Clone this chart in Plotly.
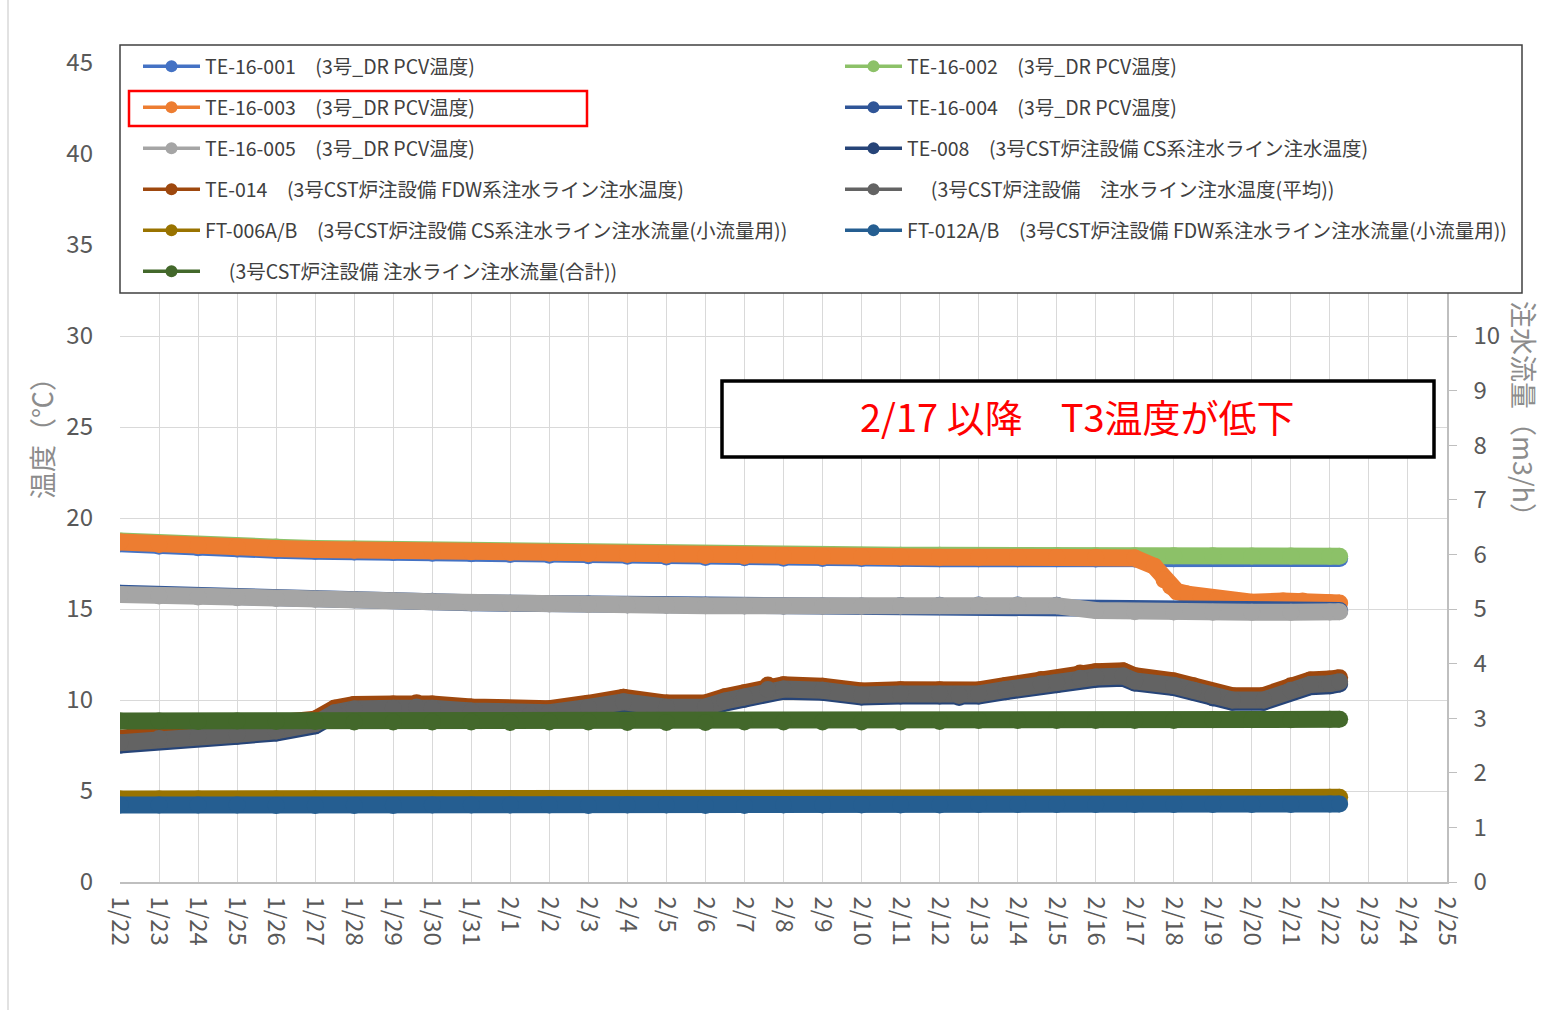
import pandas as pd
import plotly.graph_objects as go

# ---------------- data ----------------
BASE_DATE = "2021-01-22"
X_END_DAY = 34  # 2/25

# day offsets from 1/22 00:00
DAYS = list(range(32)) + [31.25]
ORANGE_DAYS = list(range(27)) + [26.5, 26.75, 26.92, 27.08, 27.35, 27.7, 28.1, 29, 29.8, 30.3, 31, 31.25]
BAND_DAYS = [0, 1, 2, 3, 4, 5, 5.5, 6, 7, 7.6, 8, 9, 10, 10.5, 11, 12, 12.9, 14, 15, 15.5,
             16, 16.6, 17, 18, 19, 20, 21, 21.5, 22, 22.7, 23.6, 24, 24.6, 25, 25.7, 26,
             27, 27.5, 28, 28.5, 29.3, 30, 30.5, 31, 31.25]

TE_16_001 = [18.58, 18.45, 18.37, 18.30, 18.23, 18.17, 18.13, 18.10, 18.07, 18.04,
             18.00, 17.96, 17.93, 17.90, 17.86, 17.83, 17.81, 17.79, 17.78, 17.77,
             17.77, 17.76, 17.76, 17.76, 17.76, 17.75, 17.75, 17.76, 17.77, 17.77,
             17.78, 17.78, 17.78]
TE_16_002 = [18.74, 18.61, 18.53, 18.46, 18.40, 18.33, 18.29, 18.26, 18.23, 18.20,
             18.16, 18.12, 18.09, 18.07, 18.04, 18.02, 18.00, 17.98, 17.97, 17.96,
             17.95, 17.95, 17.94, 17.94, 17.94, 17.93, 17.93, 17.92, 17.92, 17.91,
             17.91, 17.90, 17.90]
TE_16_003 = [18.68, 18.55, 18.47, 18.40, 18.33, 18.27, 18.23, 18.20, 18.17, 18.14,
             18.10, 18.06, 18.03, 18.00, 17.96, 17.93, 17.90, 17.88, 17.87, 17.86,
             17.86, 17.85, 17.85, 17.85, 17.85, 17.84, 17.80,
             17.35, 16.60, 16.23, 15.96, 15.82, 15.68, 15.50, 15.37, 15.44, 15.44,
             15.34, 15.33]
TE_16_004 = [15.86, 15.78, 15.71, 15.65, 15.60, 15.56, 15.52, 15.47, 15.42, 15.35,
             15.32, 15.30, 15.27, 15.24, 15.22, 15.20, 15.18, 15.17, 15.17, 15.17,
             15.19, 15.20, 15.22, 15.22, 15.20, 14.97, 14.93, 14.92, 14.92, 14.92,
             14.92, 14.92, 14.92]
TE_16_005 = [15.80, 15.72, 15.66, 15.62, 15.58, 15.54, 15.50, 15.45, 15.40, 15.33,
             15.30, 15.28, 15.25, 15.22, 15.20, 15.18, 15.16, 15.15, 15.15, 15.15,
             15.17, 15.18, 15.20, 15.20, 15.18, 14.92, 14.85, 14.83, 14.82, 14.82,
             14.82, 14.83, 14.85]
TE_008 = [7.52, 7.76, 7.89, 8.01, 8.19, 8.58, 9.18, 9.39, 9.44, 9.50, 9.44,
          9.29, 9.15, 9.06, 9.19, 9.47, 9.78, 9.49, 9.51, 9.83, 10.04,
          10.46, 10.48, 10.42, 10.16, 10.22, 10.22, 10.14, 10.22, 10.46, 10.76,
          10.84, 11.08, 11.14, 11.20, 10.93, 10.68, 10.42, 10.11, 9.88, 9.88,
          10.41, 10.73, 10.78, 10.88]
TE_014 = [7.90, 8.10, 8.22, 8.35, 8.52, 8.95, 9.55, 9.75, 9.78, 9.85, 9.78,
          9.62, 9.50, 9.40, 9.52, 9.82, 10.15, 9.83, 9.84, 10.18, 10.40,
          10.82, 10.84, 10.76, 10.50, 10.56, 10.56, 10.48, 10.55, 10.80, 11.12,
          11.20, 11.48, 11.55, 11.60, 11.33, 11.05, 10.78, 10.47, 10.24, 10.25,
          10.78, 11.10, 11.15, 11.22]
TEMP_AVG = [7.65, 7.88, 8.00, 8.12, 8.30, 8.70, 9.30, 9.50, 9.55, 9.62, 9.55,
            9.40, 9.26, 9.17, 9.30, 9.59, 9.90, 9.60, 9.62, 9.95, 10.16,
            10.58, 10.60, 10.53, 10.27, 10.33, 10.33, 10.25, 10.33, 10.58, 10.88,
            10.96, 11.20, 11.26, 11.32, 11.05, 10.80, 10.53, 10.23, 10.00, 10.00,
            10.53, 10.85, 10.90, 11.00]
FT_006 = [1.52, 1.52, 1.52, 1.51, 1.52, 1.52, 1.51, 1.51, 1.52, 1.52,
          1.51, 1.52, 1.52, 1.52, 1.51, 1.51, 1.52, 1.52, 1.52, 1.52,
          1.52, 1.53, 1.53, 1.53, 1.53, 1.53, 1.53, 1.53, 1.54, 1.54,
          1.54, 1.55, 1.55]
FT_012 = [1.41, 1.41, 1.41, 1.41, 1.40, 1.40, 1.40, 1.40, 1.41, 1.41,
          1.41, 1.41, 1.40, 1.41, 1.41, 1.40, 1.40, 1.41, 1.41, 1.41,
          1.41, 1.41, 1.42, 1.42, 1.42, 1.42, 1.42, 1.42, 1.42, 1.42,
          1.42, 1.43, 1.43]
FLOW_TOTAL = [2.95, 2.95, 2.94, 2.95, 2.94, 2.94, 2.93, 2.93, 2.93, 2.93,
              2.92, 2.93, 2.93, 2.92, 2.92, 2.92, 2.93, 2.93, 2.93, 2.93,
              2.93, 2.94, 2.96, 2.96, 2.96, 2.96, 2.96, 2.96, 2.97, 2.97,
              2.97, 2.98, 2.98]

LABELS = {
    "001": "TE-16-001\u3000(3号_DR PCV温度)",
    "002": "TE-16-002\u3000(3号_DR PCV温度)",
    "003": "TE-16-003\u3000(3号_DR PCV温度)",
    "004": "TE-16-004\u3000(3号_DR PCV温度)",
    "005": "TE-16-005\u3000(3号_DR PCV温度)",
    "008": "TE-008\u3000(3号CST炉注設備 CS系注水ライン注水温度)",
    "014": "TE-014\u3000(3号CST炉注設備 FDW系注水ライン注水温度)",
    "avg": "\u3000 (3号CST炉注設備\u3000注水ライン注水温度(平均))",
    "f006": "FT-006A/B\u3000(3号CST炉注設備 CS系注水ライン注水流量(小流量用))",
    "f012": "FT-012A/B\u3000(3号CST炉注設備 FDW系注水ライン注水流量(小流量用))",
    "ftot": "\u3000 (3号CST炉注設備 注水ライン注水流量(合計))",
}
Y_TICKS = [0, 5, 10, 15, 20, 25, 30, 35, 40, 45]
Y2_TICKS = [0, 1, 2, 3, 4, 5, 6, 7, 8, 9, 10]
NOTE_TEXT = "2/17 以降\u3000T3温度が低下"
Y_TITLE = "温度（℃）"
Y2_TITLE = "注水流量（m3/h）"

# ---------------- styling ----------------
COLORS = {
    "001": "#4472C4", "002": "#8CC168", "003": "#ED7D31", "004": "#2F5597",
    "005": "#A5A5A5", "008": "#264478", "014": "#9E480E", "avg": "#636363",
    "f006": "#997300", "f012": "#255E91", "ftot": "#43682B",
}
FONT = "Noto Sans CJK JP"
W, H = 1543, 1010
L, R, T, B = 120, 96, 63, 128
PW, PH = W - L - R, H - T - B
LEG_FONT = 19.5
ROW_PITCH = 41
BAND_W = 17


def px_x(px):
    return (px - L) / PW


def px_y(py):
    return (H - B - py) / PH


def to_dates(days):
    return pd.Timestamp(BASE_DATE) + pd.to_timedelta(pd.Series(days, dtype=float), unit="D")


# draw order = Excel series order
SERIES = [
    ("001", DAYS, TE_16_001, "y"),
    ("002", DAYS, TE_16_002, "y"),
    ("003", ORANGE_DAYS, TE_16_003, "y"),
    ("004", DAYS, TE_16_004, "y"),
    ("005", DAYS, TE_16_005, "y"),
    ("008", BAND_DAYS, TE_008, "y"),
    ("014", BAND_DAYS, TE_014, "y"),
    ("avg", BAND_DAYS, TEMP_AVG, "y"),
    ("f006", DAYS, FT_006, "y2"),
    ("f012", DAYS, FT_012, "y2"),
    ("ftot", DAYS, FLOW_TOTAL, "y2"),
]
LEGEND1 = ["001", "003", "005", "014", "f006", "ftot"]
LEGEND2 = ["002", "004", "008", "avg", "f012"]

fig = go.Figure()
for key, days, vals, ax in SERIES:
    fig.add_trace(go.Scatter(
        x=to_dates(days), y=vals, yaxis=ax, mode="lines+markers",
        line=dict(color=COLORS[key], width=BAND_W),
        marker=dict(color=COLORS[key], size=BAND_W),
        showlegend=False, name=LABELS[key], hoverinfo="x+y+name",
    ))

for legend_id, keys in (("legend", LEGEND1), ("legend2", LEGEND2)):
    for key in keys:
        fig.add_trace(go.Scatter(
            x=[None], y=[None], mode="lines+markers", name=LABELS[key],
            line=dict(color=COLORS[key], width=3.5),
            marker=dict(color=COLORS[key], size=12),
            legend=legend_id, legendgroup=key, showlegend=True,
        ))

item_h = LEG_FONT * 1.3 + 3
legend_common = dict(
    bgcolor="rgba(0,0,0,0)", borderwidth=0, yanchor="top", xanchor="left",
    font=dict(family=FONT, size=LEG_FONT, color="#404040"),
    traceorder="grouped", tracegroupgap=ROW_PITCH - item_h, itemwidth=57,
)

shapes = [
    # legend frame (white, covers top of plot area)
    dict(type="rect", xref="paper", yref="paper", layer="above",
         x0=px_x(120), x1=px_x(1522), y0=px_y(293), y1=px_y(45),
         fillcolor="white", line=dict(color="#404040", width=1.5)),
    # red highlight around TE-16-003
    dict(type="rect", xref="paper", yref="paper", layer="above",
         x0=px_x(129), x1=px_x(587), y0=px_y(126), y1=px_y(91),
         fillcolor="rgba(0,0,0,0)", line=dict(color="#FF0000", width=2.5)),
    # note box
    dict(type="rect", xref="paper", yref="paper", layer="above",
         x0=px_x(722), x1=px_x(1434), y0=px_y(457), y1=px_y(381),
         fillcolor="white", line=dict(color="#000000", width=3.5)),
    # chart area left border
    dict(type="line", xref="paper", yref="paper", layer="above",
         x0=px_x(8), x1=px_x(8), y0=px_y(1010), y1=px_y(0),
         line=dict(color="#D9D9D9", width=1.5)),
]

annotations = [
    dict(text=NOTE_TEXT, xref="paper", yref="paper", x=px_x(1077), y=px_y(415),
         xanchor="center", yanchor="middle",
         showarrow=False, font=dict(family=FONT, size=38, color="#FF0000")),
    dict(text=Y_TITLE, xref="paper", yref="paper", x=px_x(42), y=px_y(432),
         xanchor="center", yanchor="middle",
         textangle=-90, showarrow=False, font=dict(family=FONT, size=27, color="#8C8C8C")),
    dict(text=Y2_TITLE, xref="paper", yref="paper", x=px_x(1525), y=px_y(416),
         xanchor="center", yanchor="middle",
         textangle=90, showarrow=False, font=dict(family=FONT, size=27, color="#8C8C8C")),
]

tickfont = dict(family=FONT, size=24, color="#595959")
fig.update_layout(
    width=W, height=H,
    margin=dict(l=L, r=R, t=T, b=B, autoexpand=False),
    paper_bgcolor="white", plot_bgcolor="white",
    font=dict(family=FONT),
    xaxis=dict(
        type="date", range=[to_dates([0])[0], to_dates([X_END_DAY])[0]],
        tick0=BASE_DATE, dtick=86400000, tickformat="%-m/%-d", tickangle=90,
        showgrid=True, gridcolor="#D9D9D9", gridwidth=1,
        showline=True, linecolor="#BFBFBF", linewidth=1.5,
        ticks="", ticklabelstandoff=8, tickfont=tickfont, zeroline=False,
    ),
    yaxis=dict(
        range=[0, 45], tickvals=Y_TICKS, showgrid=True, gridcolor="#D9D9D9",
        gridwidth=1, zeroline=False, showline=False, ticks="",
        ticklabelstandoff=26, tickfont=tickfont,
    ),
    yaxis2=dict(
        range=[0, 15], tickvals=Y2_TICKS, overlaying="y", side="right",
        showgrid=False, zeroline=False, showline=True, linecolor="#BFBFBF",
        linewidth=1.5, ticks="outside", ticklen=8, tickcolor="#BFBFBF",
        ticklabelstandoff=12, tickfont=tickfont,
    ),
    legend=dict(x=px_x(138), y=px_y(47), **legend_common),
    legend2=dict(x=px_x(840), y=px_y(47), **legend_common),
    shapes=shapes,
    annotations=annotations,
    showlegend=True,
    hovermode="closest",
)

fig.write_html("out.html", config={"displayModeBar": False},
               post_script="document.body.style.margin='0';")
